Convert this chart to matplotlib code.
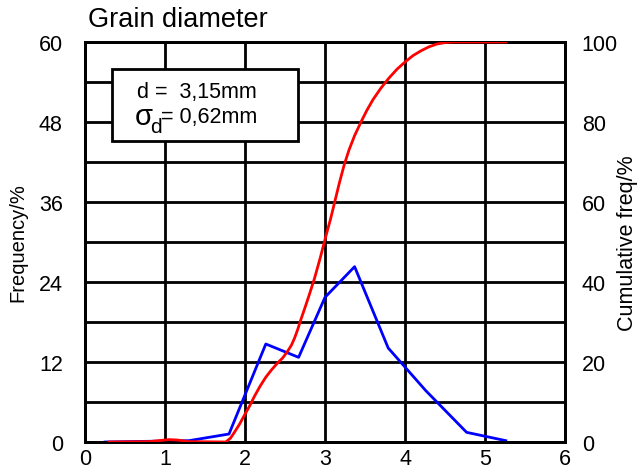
import numpy as np
import matplotlib
matplotlib.use('Agg')
import matplotlib.pyplot as plt

plt.rcParams['font.family'] = ['Liberation Sans', 'DejaVu Sans']

# frequency curve (left axis, %)
freq_x = [0.25, 1.30, 1.80, 2.26, 2.67, 3.00, 3.37, 3.79, 4.26, 4.77, 5.26]
freq_y = [0.0, 0.2, 1.2, 14.7, 12.7, 21.7, 26.3, 14.1, 7.7, 1.45, 0.2]

# cumulative curve (right axis, %)
cum_x = [0.30, 0.80, 0.95, 1.05, 1.15, 1.30, 1.76, 1.82, 1.87, 1.93, 1.99, 2.06, 2.12, 2.19,
         2.26, 2.33, 2.40, 2.47, 2.53, 2.58, 2.62, 2.66, 2.70, 2.75, 2.80, 2.87, 2.94, 3.01,
         3.07, 3.12, 3.18, 3.24, 3.30, 3.37, 3.45, 3.52, 3.60, 3.70, 3.80, 3.90, 4.00, 4.10,
         4.20, 4.30, 4.40, 4.50, 4.60, 4.75, 5.26]
cum_y = [0.0, 0.1, 0.4, 0.6, 0.5, 0.1, 0.0, 1.0, 2.5, 4.4, 6.6, 9.1, 11.5, 14.0,
         16.2, 18.0, 19.6, 21.0, 22.6, 24.2, 26.0, 28.2, 30.7, 33.6, 36.6, 41.0, 46.0, 51.4,
         55.8, 59.9, 64.8, 69.3, 73.0, 76.6, 80.0, 82.8, 85.6, 88.5, 91.0, 93.2, 95.0, 96.6,
         97.8, 98.8, 99.5, 99.85, 100.0, 100.0, 100.0]

left_ticks = [0, 12, 24, 36, 48, 60]
right_ticks = [0, 20, 40, 60, 80, 100]
x_ticks = [0, 1, 2, 3, 4, 5, 6]

fig = plt.figure(figsize=(6.4, 4.77), dpi=100)
ax = fig.add_axes([85/640, 34/477, 480/640, 400/477])
ax2 = ax.twinx()

lw = 2.0
fs = 15.5
ax.set_xlim(0, 6)
ax.set_ylim(0, 60)
ax.set_xticks(x_ticks)
ax.set_yticks(left_ticks)
ax.set_yticks(np.arange(6, 60, 12), minor=True)
ax.grid(True, which='both', color='black', linewidth=lw)
ax.set_axisbelow(True)
for sp in ax.spines.values():
    sp.set_linewidth(lw)
for sp in ax2.spines.values():
    sp.set_linewidth(lw)
ax.tick_params(which='both', length=0, labelsize=fs)
ax.tick_params(axis='y', pad=16)
ax.tick_params(axis='x', pad=4)

ax2.set_ylim(0, 100)
ax2.set_yticks(right_ticks)
ax2.tick_params(length=0, labelsize=fs, pad=12)

ax.plot(freq_x, freq_y, color='#0000ff', linewidth=2.0, zorder=3)
ax2.plot(cum_x, cum_y, color='#ff0000', linewidth=2.0, zorder=3)

ax.set_ylabel('Frequency/%', fontsize=14.5)
ax2.set_ylabel('Cumulative freq/%', fontsize=fs)
ax.yaxis.set_label_coords((18 - 85) / 480, 0.5)
ax2.yaxis.set_label_coords((628 - 85) / 480, 0.5)
ax.yaxis.label.set_va('center')
ax2.yaxis.label.set_va('center')

fig.text(88/640, 1 - 20/477, 'Grain diameter', fontsize=19.5, ha='left', va='center')


def px(x, y):
    # pixel position in the picture -> axes fraction
    return (x - 85) / 480, (443 - y) / 400


# parameter box
box = plt.Rectangle((0.056, 0.7525), 0.3875, 0.18, transform=ax.transAxes,
                    facecolor='white', edgecolor='black', linewidth=2.0, zorder=5)
ax2.add_patch(box)
ax2.text(*px(137, 98), 'd =  3,15mm', transform=ax.transAxes, fontsize=fs,
         ha='left', va='baseline', zorder=6)
# sigma_d drawn in pieces so the symbol and subscript come out larger
ax2.text(*px(135, 125), '\u03c3', transform=ax.transAxes,
         fontsize=21, ha='left', va='baseline', zorder=6)
ax2.text(*px(150, 133), 'd', transform=ax.transAxes,
         fontsize=15, ha='left', va='baseline', zorder=6)
ax2.text(*px(161, 123), '= 0,62mm', transform=ax.transAxes,
         fontsize=fs, ha='left', va='baseline', zorder=6)

fig.savefig('out.png', dpi=100)
